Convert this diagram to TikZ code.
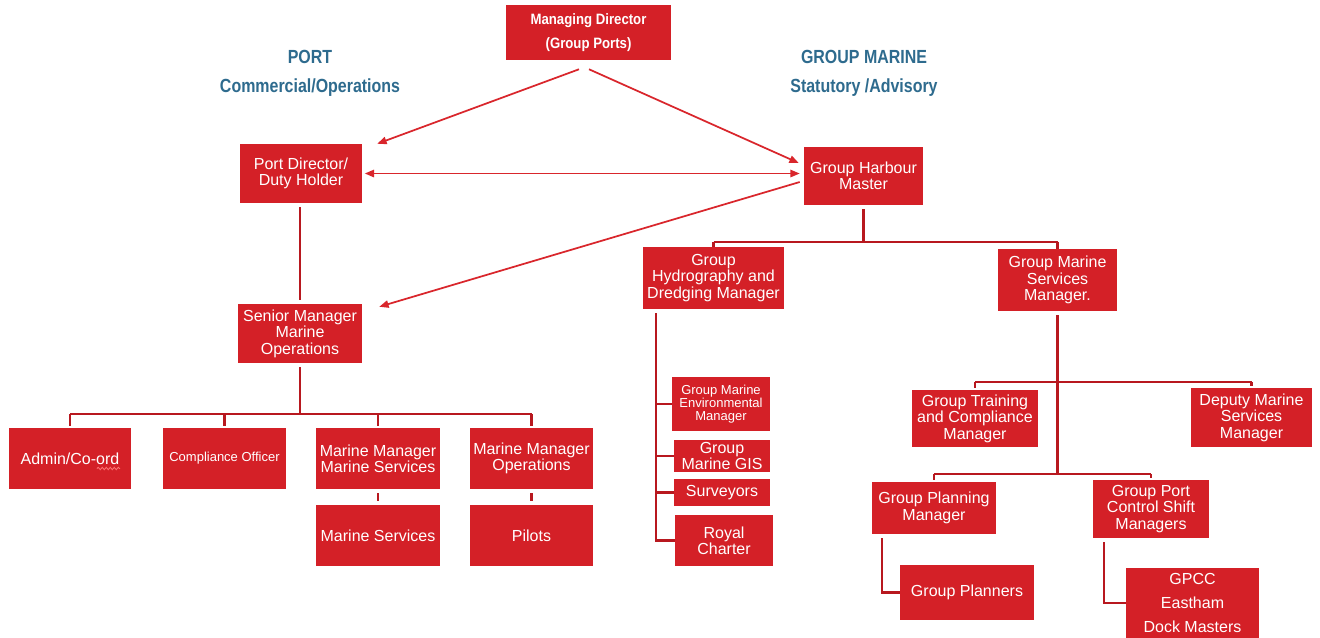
\documentclass[tikz,border=0pt]{standalone}
\usepackage{fontspec}
\setmainfont{Liberation Sans}
\newfontfamily\narrowfont[FakeStretch=0.88]{Liberation Sans}
\newfontfamily\titlefont[FakeStretch=0.84]{Liberation Sans}
\usetikzlibrary{arrows.meta,calc,decorations.pathmorphing}
\definecolor{boxred}{HTML}{D42027}
\definecolor{linered}{HTML}{B8181F}
\definecolor{arrred}{HTML}{D9262C}
\definecolor{titleblue}{HTML}{2E6B8E}
\tikzset{
  obox/.style={fill=boxred, text=white, inner sep=0pt, align=center,
    font=\fontsize{12}{12.3}\selectfont},
  smallbox/.style={font=\fontsize{9.75}{9.9}\selectfont},
  titletext/.style={text=titleblue, align=center,
    font=\titlefont\bfseries\fontsize{14.25}{21.75}\selectfont},
  tree/.style={draw=linered, line width=1.8pt},
  arr/.style={draw=arrred, line width=1.3pt, -{Triangle[length=7pt,width=5.5pt]}},
  arrtwo/.style={draw=arrred, line width=1.3pt, {Triangle[length=7pt,width=5.5pt]}-{Triangle[length=7pt,width=5.5pt]}}
}
\newcommand\orgbox[7][]{\node[obox,#1,minimum width={(#4-#2)*0.75pt},minimum height={(#5-#3)*0.75pt}] (#6) at ({(#2+#4)/2},{(#3+#5)/2}) {#7};}
\begin{document}
\begin{tikzpicture}[x=0.75pt,y=-0.75pt]
\fill[white] (0,0) rectangle (1320,637);
\useasboundingbox (0,0) rectangle (1320,637);

% titles
\node[titletext] (tport) at (310,73.5) {PORT\\Commercial/Operations};
\node[titletext] (tmarine) at (864,73.5) {GROUP MARINE\\Statutory /Advisory};

% boxes
\orgbox[font=\narrowfont\bfseries\fontsize{11.25}{18}\selectfont]{506}{5}{671}{60}{md}{Managing Director\\(Group Ports)}
\orgbox{240}{144}{362}{203}{pd}{Port Director/\\Duty Holder}
\orgbox{238}{304}{362}{363}{sm}{Senior Manager\\Marine\\Operations}
\orgbox{804}{147}{923}{205}{ghm}{Group Harbour\\Master}
\orgbox{643}{247}{784}{309}{hyd}{Group\\Hydrography and\\Dredging Manager}
\orgbox{998}{249}{1117}{311}{gmsm}{Group Marine\\Services\\Manager.}

\orgbox{9}{428}{131}{489}{admin}{Admin/Co-ord}
\orgbox[smallbox]{163}{428}{286}{489}{co}{Compliance Officer}
\orgbox{316}{428}{440}{489}{mms}{Marine Manager\\Marine Services}
\orgbox{470}{428}{593}{489}{mmo}{Marine Manager\\Operations}
\orgbox{316}{505}{440}{566}{ms}{Marine Services}
\orgbox{470}{505}{593}{566}{pilots}{Pilots}

\orgbox[smallbox]{672}{377}{770}{431}{env}{Group Marine\\Environmental\\Manager}
\orgbox{674}{440}{770}{472}{gis}{Group\\Marine GIS}
\orgbox{674}{479}{770}{506}{surv}{Surveyors}
\orgbox{675}{515}{773}{566}{rc}{Royal\\Charter}

\orgbox{912}{390}{1038}{447}{gtc}{Group Training\\and Compliance\\Manager}
\orgbox{1191}{388}{1312}{447}{dms}{Deputy Marine\\Services\\Manager}
\orgbox{872}{482}{996}{534}{gpm}{Group Planning\\Manager}
\orgbox{1093}{480}{1209}{538}{gpcsm}{Group Port\\Control Shift\\Managers}
\orgbox{900}{565}{1034}{620}{gp}{Group Planners}
\orgbox[font=\fontsize{12}{18}\selectfont]{1126}{568}{1259}{638}{gpcc}{GPCC\\Eastham\\Dock Masters}

% spell-check squiggle
\draw[decorate, decoration={snake, amplitude=0.9pt, segment length=3pt}, draw=red!55, line width=0.6pt]
  ($(admin.center)+(27,10)$) -- ++(23,0);

% arrows
\draw[arr] ($(md.south)+(-9.5,9)$) -- ($(pd.north east)+(15,0)$);
\draw[arr] ($(md.south)+(0.5,9)$) -- ($(ghm.west)+(-5,-13)$);
\draw[arrtwo] ($(pd.east)+(2.5,0)$) -- ($(pd.east -| ghm.west)+(-4,0)$);
\draw[arr] ($(ghm.west)+(-4,6)$) -- ($(sm.north east)+(17,3)$);

% port tree
\draw[tree] ($(pd.south -| sm.north)+(0,4)$) -- ($(sm.north)+(0,-4)$);
\draw[tree] ($(sm.south)+(0,4)$) -- ($(sm.south)+(0,51)$) coordinate (smb);
\draw[tree] (admin.north |- smb) -- (mmo.north |- smb);
\foreach \n in {admin,co,mms,mmo} \draw[tree] (\n.north |- smb) -- ($(\n.north)+(0,-2)$);
\draw[tree] ($(mms.south)+(0,4)$) -- ($(ms.north)+(0,-4)$);
\draw[tree] ($(mmo.south)+(0,4)$) -- ($(pilots.north)+(0,-4)$);

% marine tree
\draw[tree] ($(ghm.south)+(0,4)$) -- ($(ghm.south)+(0,37)$) coordinate (ghb);
\draw[tree] (hyd.north |- ghb) -- (gmsm.north |- ghb);
\draw[tree] (hyd.north |- ghb) -- (hyd.north);
\draw[tree] (gmsm.north |- ghb) -- (gmsm.north);

\coordinate (hs) at ($(hyd.south west)+(13,4)$);
\draw[tree] (hs) |- (rc.west);
\foreach \n in {env,gis,surv} \draw[tree] (hs |- \n.west) -- (\n.west);

\draw[tree] ($(gmsm.south)+(0,4)$) -- ($(gmsm.south)+(0,163)$) coordinate (gmb2);
\coordinate (gmb1) at ($(gmsm.south)+(0,71)$);
\draw[tree] (gtc.north |- gmb1) -- (dms.north |- gmb1);
\draw[tree] (gtc.north |- gmb1) -- ($(gtc.north)+(0,-2)$);
\draw[tree] (dms.north |- gmb1) -- ($(dms.north)+(0,-2)$);
\draw[tree] (gpm.north |- gmb2) -- (gpcsm.north |- gmb2);
\draw[tree] (gpm.north |- gmb2) -- ($(gpm.north)+(0,-2)$);
\draw[tree] (gpcsm.north |- gmb2) -- ($(gpcsm.north)+(0,-2)$);

\draw[tree] ($(gpm.south west)+(10,4)$) |- (gp.west);
\draw[tree] ($(gpcsm.south west)+(11,4)$) |- (gpcc.west);
\end{tikzpicture}
\end{document}
